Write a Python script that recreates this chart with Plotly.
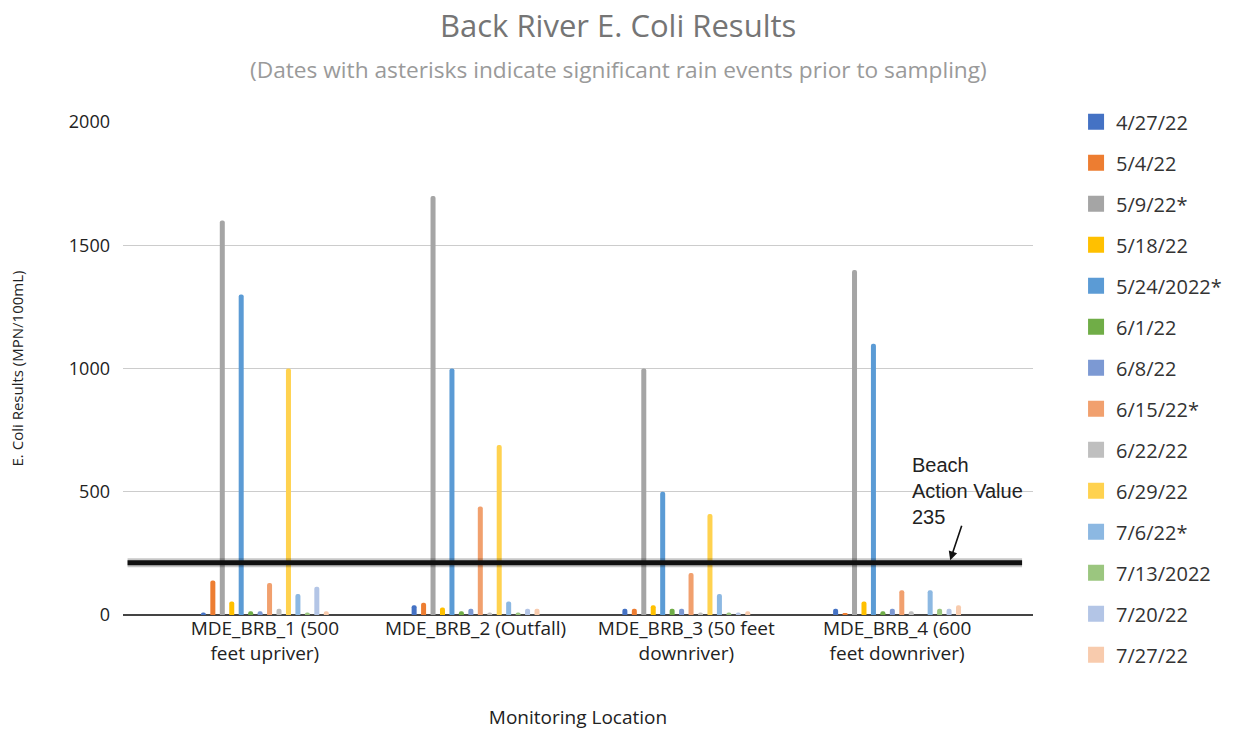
import plotly.graph_objects as go

locations = ["MDE_BRB_1 (500<br>feet upriver)", "MDE_BRB_2 (Outfall)",
             "MDE_BRB_3 (50 feet<br>downriver)", "MDE_BRB_4 (600<br>feet downriver)"]
dates = ["4/27/22", "5/4/22", "5/9/22*", "5/18/22", "5/24/2022*", "6/1/22", "6/8/22",
         "6/15/22*", "6/22/22", "6/29/22", "7/6/22*", "7/13/2022", "7/20/22", "7/27/22"]
colors = ["#4472c4", "#ed7d31", "#a5a5a5", "#ffc000", "#5b9bd5", "#70ad47", "#7c99d3",
          "#f1a06e", "#bfbfbf", "#ffd24f", "#8cb8e2", "#9bc67f", "#b3c5e6", "#f8cbad"]

v_4_27 = [10, 40, 25, 25]
v_5_4 = [140, 50, 25, 5]
v_5_9 = [1600, 1700, 1000, 1400]
v_5_18 = [55, 30, 40, 55]
v_5_24 = [1300, 1000, 500, 1100]
v_6_1 = [15, 15, 25, 15]
v_6_8 = [15, 25, 25, 25]
v_6_15 = [130, 440, 170, 100]
v_6_22 = [25, 10, 10, 15]
v_6_29 = [1000, 690, 410, 0]
v_7_6 = [85, 55, 85, 100]
v_7_13 = [10, 10, 10, 25]
v_7_20 = [115, 25, 10, 25]
v_7_27 = [15, 25, 15, 40]
series = [v_4_27, v_5_4, v_5_9, v_5_18, v_5_24, v_6_1, v_6_8,
          v_6_15, v_6_22, v_6_29, v_7_6, v_7_13, v_7_20, v_7_27]

y_ticks = [0, 500, 1000, 1500, 2000]
beach_line_y = 212  # where the hand-drawn line sits in the picture

FONT = "Open Sans, Noto Sans, sans-serif"

fig = go.Figure()
for name, vals, col in zip(dates, series, colors):
    fig.add_trace(go.Bar(x=locations, y=vals, name=name, marker_color=col,
                         marker_line_width=0, showlegend=False))
# legend swatches (square markers like the reference)
for name, col in zip(dates, colors):
    fig.add_trace(go.Scatter(x=[None], y=[None], mode="markers", name=name,
                             legendgroup=name,
                             marker=dict(symbol="square", size=20, color=col)))

fig.add_shape(type="line", xref="paper", yref="y", x0=0.005, x1=0.988,
              y0=beach_line_y, y1=beach_line_y,
              line=dict(color="rgba(0,0,0,0.22)", width=9))
fig.add_shape(type="line", xref="paper", yref="y", x0=0.005, x1=0.988,
              y0=beach_line_y, y1=beach_line_y,
              line=dict(color="#111111", width=5))

fig.add_annotation(xref="paper", yref="y", x=0.909, y=222, ax=12, ay=-36,
                   text="", showarrow=True, arrowhead=2, arrowsize=1.1,
                   arrowwidth=1.6, arrowcolor="#111111")
fig.add_annotation(xref="paper", yref="paper", x=0.865, y=0.331,
                   xanchor="left", yanchor="top", align="left", showarrow=False,
                   text="Beach<br>Action Value<br>235",
                   font=dict(family="Liberation Sans, Arial", size=20, color="#222222"))

# title and subtitle
fig.add_annotation(xref="paper", yref="paper", x=0.544, y=1.197, xanchor="center",
                   yanchor="middle", showarrow=False, text="Back River E. Coli Results",
                   font=dict(family=FONT, size=31, color="#757575"))
fig.add_annotation(xref="paper", yref="paper", x=0.544, y=1.107, xanchor="center",
                   yanchor="middle", showarrow=False,
                   text="(Dates with asterisks indicate significant rain events prior to sampling)",
                   font=dict(family=FONT, size=22.7, color="#9a9a9a"))

fig.update_layout(
    width=1235, height=730,
    paper_bgcolor="white", plot_bgcolor="white",
    font=dict(family=FONT, color="#222222"),
    margin=dict(l=123, r=202, t=122, b=115, autoexpand=False),
    barmode="group", bargap=0.372, bargroupgap=0.47, barcornerradius=3,
    showlegend=True,
    legend=dict(xref="container", yref="container", x=0.8713, xanchor="left",
                y=0.860, yanchor="top",
                font=dict(size=20, color="#333333"), tracegroupgap=12,
                itemwidth=30, maxheight=1000),
    xaxis=dict(title=dict(text="Monitoring Location", font=dict(size=19), standoff=48),
               tickfont=dict(size=19), showgrid=False, ticks="", automargin=False,
               ticklen=3, showline=False, range=[-0.673, 3.645]),
    yaxis=dict(title=dict(text="E. Coli Results (MPN/100mL)", font=dict(size=15), standoff=41),
               range=[0, 2000], tickvals=y_ticks, tickfont=dict(size=18),
               ticklabelstandoff=12, automargin=False,
               gridcolor="#cccccc", gridwidth=1, zeroline=True, zerolinecolor="#444444",
               zerolinewidth=1.5, ticks=""),
)

fig.write_html("out.html", config={"displayModeBar": False},
               post_script="document.body.style.margin='0';")
